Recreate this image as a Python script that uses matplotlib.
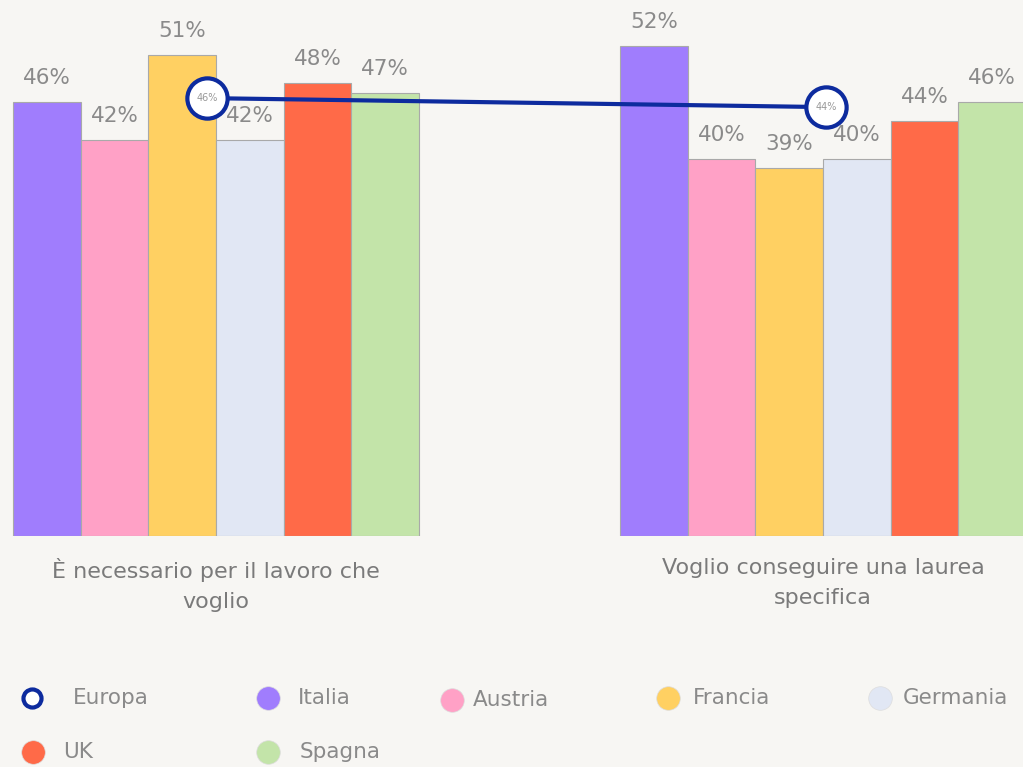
import matplotlib
matplotlib.use("Agg")
from matplotlib import pyplot as plt
from matplotlib.lines import Line2D
import numpy as np

# data
categories = ["È necessario per il lavoro che\nvoglio", "Voglio conseguire una laurea\nspecifica"]
countries = ["Italia", "Austria", "Francia", "Germania", "UK", "Spagna"]
colors = ["#a07dfd", "#ffa1c6", "#ffd062", "#e1e7f4", "#ff6a48", "#c3e4a9"]
values = {
    "Italia": [46, 52],
    "Austria": [42, 40],
    "Francia": [51, 39],
    "Germania": [42, 40],
    "UK": [48, 44],
    "Spagna": [47, 46],
}
europa = [46, 44]

bg = "#f7f6f3"
txt = "#8a8a8a"
blue = "#0d2b9e"

W, H = 1023, 767
fig = plt.figure(figsize=(W / 100, H / 100), dpi=100, facecolor=bg)
ax = fig.add_axes([0, (H - 536) / H, 1, 536 / H])
ax.set_facecolor(bg)

x = np.arange(len(categories))
w = 406 / 6 / 607
for i, c in enumerate(countries):
    pos = x + (i - 2.5) * w
    bars = ax.bar(pos, values[c], width=w, color=colors[i], edgecolor="#a9a9a9", linewidth=0.8, zorder=2)
    for b, v in zip(bars, values[c]):
        ax.annotate(f"{v}%", (b.get_x() + b.get_width() / 2, v), xytext=(0, 10),
                    textcoords="offset points", ha="center", va="bottom",
                    fontsize=15.5, color=txt, zorder=3)

ax.set_xlim(-216 / 607, (W - 216) / 607)
ax.set_ylim(0, 536 / 9.43)
ax.set_xticks(x)
ax.set_xticklabels(categories, fontsize=16, color="#7a7a7a", linespacing=1.6)
ax.tick_params(axis="x", length=0, pad=16)
ax.set_yticks([])
for s in ax.spines.values():
    s.set_visible(False)

# Europa line on its own scale
ax2 = ax.twinx()
ax2.set_ylim(-51.3, 67.8)
ax2.set_yticks([])
for s in ax2.spines.values():
    s.set_visible(False)
ex = x + np.array([-0.015, 0.005])
ax2.plot(ex, europa, color=blue, linewidth=3, marker="o", markersize=29,
         markerfacecolor="white", markeredgecolor=blue, markeredgewidth=3, zorder=4)
for xi, v in zip(ex, europa):
    ax2.text(xi, v, f"{v}%", ha="center", va="center", fontsize=7, color="#999999", zorder=5)

# legend
def fx(px):
    return px / W

def fy(py):
    return 1 - py / H

leg = [
    ("Europa", 32, 73, 698, True),
    ("Italia", 268, 298, 698, False),
    ("Austria", 452, 473, 700, False),
    ("Francia", 668, 693, 698, False),
    ("Germania", 880, 903, 698, False),
    ("UK", 33, 63, 752, False),
    ("Spagna", 268, 300, 752, False),
]
for name, mx, tx, py, hollow in leg:
    if hollow:
        fig.add_artist(Line2D([fx(mx)], [fy(py)], marker="o", markersize=13, markerfacecolor="white",
                              markeredgecolor=blue, markeredgewidth=3, transform=fig.transFigure))
    else:
        col = colors[countries.index(name)]
        fig.add_artist(Line2D([fx(mx)], [fy(py)], marker="o", markersize=17, markerfacecolor=col,
                              markeredgecolor="#dddddd", markeredgewidth=0.5, transform=fig.transFigure))
    fig.text(fx(tx), fy(py), name, ha="left", va="center", fontsize=15.5, color=txt)

fig.savefig("out.png", dpi=100, facecolor=bg)
